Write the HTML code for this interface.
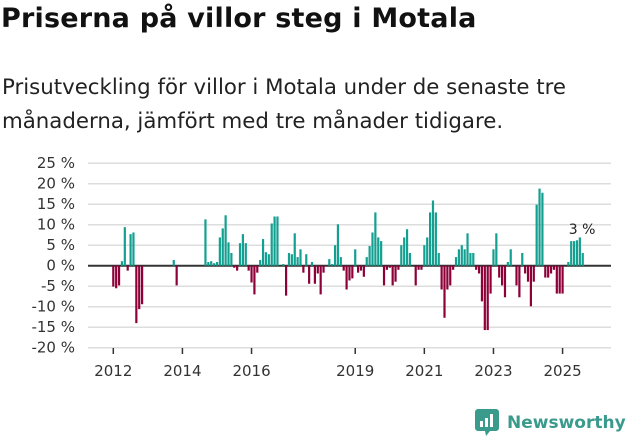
<!DOCTYPE html>
<html><head><meta charset="utf-8"><style>
body{margin:0;width:631px;height:439px;background:#fff;font-family:"DejaVu Sans",sans-serif;overflow:hidden;position:relative}
h1{position:absolute;left:1px;top:3px;margin:0;font-size:27px;font-weight:bold;color:#111;white-space:nowrap;letter-spacing:0.2px}
p{position:absolute;left:2px;top:71px;margin:0;font-size:21.3px;line-height:34px;color:#222;white-space:nowrap}
svg{position:absolute;left:0;top:0}
</style></head><body>
<h1>Priserna på villor steg i Motala</h1>
<p>Prisutveckling för villor i Motala under de senaste tre<br>månaderna, jämfört med tre månader tidigare.</p>
<svg id="c" width="631" height="439"></svg>
<script>
const months=[0,1,2,3,4,5,6,7,8,9,10,21,22,32,33,34,35,36,37,38,39,40,41,42,43,44,45,46,47,48,49,50,51,52,53,54,55,56,57,59,60,61,62,63,64,65,66,67,68,69,70,71,72,73,75,76,77,78,79,80,81,82,83,84,85,86,87,88,89,90,91,92,93,94,95,96,97,98,99,100,101,102,103,105,106,107,108,109,110,111,112,113,114,115,116,117,118,119,120,121,122,123,124,125,126,127,128,129,130,131,132,133,134,135,136,137,138,140,141,142,143,144,145,146,147,148,149,150,151,152,153,154,155,156,158,159,160,161,162,163];
const values=[-5.1,-5.5,-4.8,1.1,9.4,-1.2,7.7,8.1,-14,-10.6,-9.4,1.4,-4.8,11.3,0.9,1.1,0.6,0.9,6.9,9.1,12.3,5.7,3.1,-0.5,-1.2,5.5,7.7,5.5,-1.2,-4.1,-7,-1.7,1.4,6.5,3.3,2.8,10.3,12,12,0.4,-7.3,3.1,2.8,7.9,2.1,4,-1.7,2.8,-4.4,0.9,-4.4,-1.9,-7,-1.7,1.6,0.4,5,10.1,2.1,-1.2,-5.8,-3.6,-3.1,4,-1.7,-1.2,-2.7,2.1,4.8,8.1,13,6.9,6,-4.8,-1,-0.5,-4.8,-3.9,-1,5,6.9,8.9,3.1,-4.8,-1,-1,5,6.9,13,15.9,13,3.1,-5.8,-12.7,-5.8,-4.8,-1,2.1,4,5,4,7.9,3.1,3.1,-1,-1.9,-8.7,-15.7,-15.7,-6.8,4,7.9,-2.9,-4.8,-7.7,0.9,4,-4.8,-7.7,3.1,-1.9,-3.9,-9.9,-3.9,14.9,18.8,17.8,-2.9,-2.9,-1.9,-1,-6.8,-6.8,-6.8,0.9,6,6,6.2,6.9,3.1];
const yTicks=[25,20,15,10,5,0,-5,-10,-15,-20];
const xTickYears=[2012,2014,2016,2019,2021,2023,2025];
const NS="http://www.w3.org/2000/svg",svg=document.getElementById('c');
const FF='DejaVu Sans, sans-serif';
const y=v=>265.7-v*4.1;
const x=m=>113.3+m*2.88;
const xy=yr=>x((yr-2012)*12);
function mk(t,a){const e=document.createElementNS(NS,t);for(const k in a)e.setAttribute(k,a[k]);svg.appendChild(e);return e;}
yTicks.forEach(v=>{
 const g=mk('line',{x1:88,x2:611,y1:y(v),y2:y(v),stroke:v===0?'#333':'#ddd','stroke-width':v===0?2:1.5});
 
 
 const t=mk('text',{x:75,y:y(v)+5,'text-anchor':'end','font-size':15,fill:'#333','font-family':FF});
 t.textContent=v+' %';
 
 
});
months.forEach((m,i)=>{
 const v=values[i];
 const r=mk('rect',{x:x(m)-1.1,width:2.2,y:Math.min(y(v),y(0)),height:Math.abs(y(v)-y(0)),fill:v>=0?'#13a091':'#8d0038'});
 
 
});
xTickYears.forEach(yr=>{
 const l=mk('line',{x1:xy(yr),x2:xy(yr),y1:348,y2:354,stroke:'#333','stroke-width':1.5});
 
 
 const t=mk('text',{x:xy(yr),y:376,'text-anchor':'middle','font-size':15,fill:'#333','font-family':FF});
 t.textContent=yr;
 
 
});
const last=months.length-1;
const lb=mk('text',{x:x(months[last])-14,y:y(values[last])-19,'font-size':14,fill:'#222','font-family':FF});
lb.textContent=Math.round(values[last])+' %';


</script>
<div style="position:absolute;left:475px;top:409px;display:flex;align-items:center">
<svg width="24" height="28" style="position:static"><path d="M3 0h18a3 3 0 0 1 3 3v16a3 3 0 0 1-3 3h-6l-4 5-1-5H3a3 3 0 0 1-3-3V3a3 3 0 0 1 3-3z" fill="#3a9a8c"/><rect x="5" y="12" width="3" height="6" fill="#fff"/><rect x="10" y="9" width="3" height="9" fill="#fff"/><rect x="15" y="5" width="3" height="13" fill="#fff"/></svg>
<span style="margin-left:8px;font-size:17px;color:#3a9a8c;font-weight:bold">Newsworthy</span></div>
</body></html>
